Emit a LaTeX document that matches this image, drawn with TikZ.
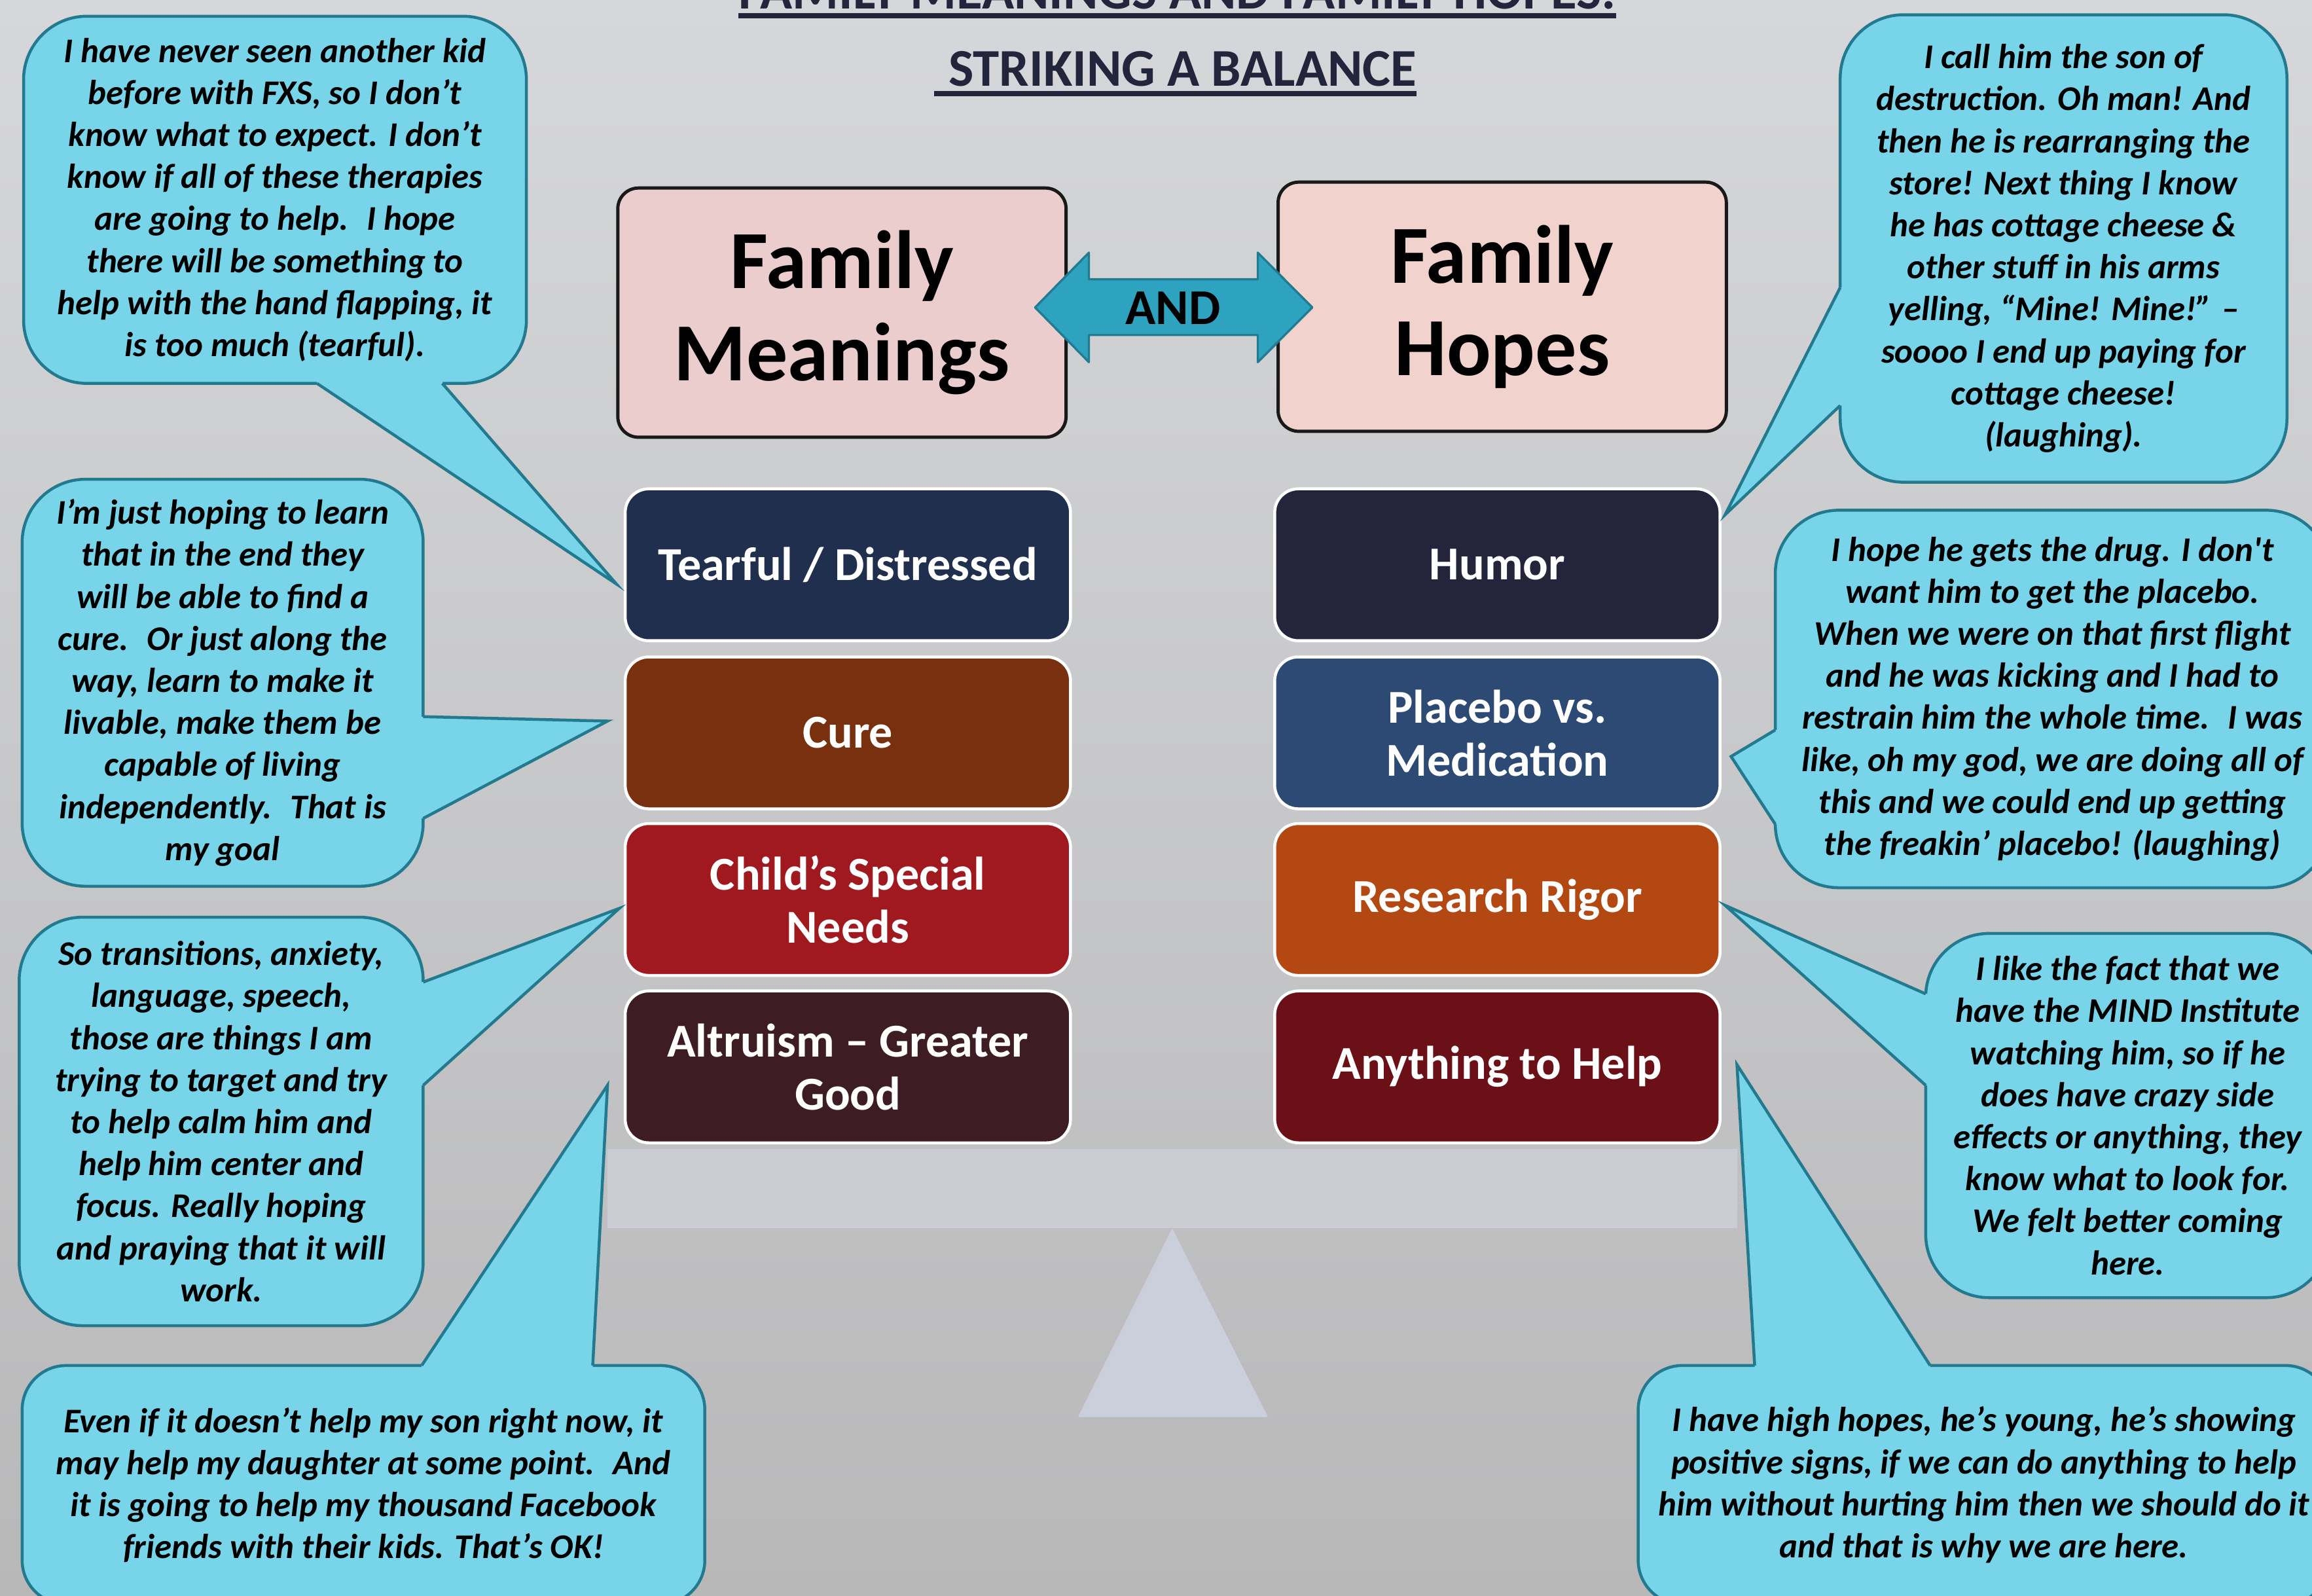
\documentclass[tikz,border=0pt]{standalone}
\usepackage{fontspec}
\setmainfont{Carlito}
\usetikzlibrary{calc}

\definecolor{bgtop}{RGB}{214,215,218}
\definecolor{bgbot}{RGB}{184,184,185}
\definecolor{titlecol}{RGB}{34,37,59}
\definecolor{meanfill}{RGB}{236,205,206}
\definecolor{hopefill}{RGB}{242,210,204}
\definecolor{andfill}{RGB}{46,163,192}
\definecolor{andline}{RGB}{33,123,145}
\definecolor{callfill}{RGB}{120,213,233}
\definecolor{callline}{RGB}{35,122,143}
\definecolor{beamcol}{RGB}{203,205,210}
\definecolor{pivotcol}{RGB}{202,207,219}
\definecolor{tearcol}{RGB}{31,47,77}
\definecolor{curecol}{RGB}{120,48,14}
\definecolor{childcol}{RGB}{160,25,31}
\definecolor{altrucol}{RGB}{62,28,36}
\definecolor{humorcol}{RGB}{36,37,59}
\definecolor{placebocol}{RGB}{44,74,116}
\definecolor{rigorcol}{RGB}{179,72,18}
\definecolor{helpcol}{RGB}{107,16,22}

\begin{document}
\begin{tikzpicture}[x=1pt,y=-1pt,
    bubble/.style={draw=callline,fill=callfill,line width=2pt,rounded corners=43pt,
      inner sep=0pt,align=center,font=\bfseries\itshape\fontsize{23.5}{28.5}\selectfont},
    pointer/.style={draw=callline,line width=2pt,line join=miter},
    catbox/.style={draw=white,line width=2pt,rounded corners=16pt,
      minimum width=302pt,minimum height=103pt,inner sep=0pt,text=white,
      align=center,font=\bfseries\fontsize{32}{36}\selectfont},
    header/.style={draw=black!90,line width=2.2pt,rounded corners=14pt,
      minimum width=304pt,minimum height=169pt,inner sep=0pt,
      align=center,font=\bfseries\fontsize{56}{62.5}\selectfont},
    heading/.style={text=titlecol,inner sep=0pt,anchor=base,
      font=\bfseries\fontsize{36}{40}\selectfont}]

    \useasboundingbox (0,0) rectangle (1568,1082);
    \shade[top color=bgtop,bottom color=bgbot] (0,0) rectangle (1568,1082);
    %
    \node[heading] (t1) at (798.5,6) {FAMILY MEANINGS AND FAMILY HOPES:};
    \node[heading] (t2) at (802,58.5) {STRIKING A BALANCE};
    \draw[titlecol,line width=3.4pt] ([yshift=-4.6pt]t1.base west) -- ([yshift=-4.6pt]t1.base east);
    \draw[titlecol,line width=3.4pt] ([xshift=-9.5pt,yshift=-4.9pt]t2.base west) -- ([yshift=-4.9pt]t2.base east);
    %
    \fill[beamcol] (412,779) rectangle (1178,833);
    \fill[pivotcol,rounded corners=1pt] (795,833) -- (860,961) -- (731,961) -- cycle;
    %
    \node[catbox,fill=tearcol] (tear) at (575,383) {Tearful / Distressed};
    \node[catbox,fill=curecol] (cure) at (575,497) {Cure};
    \node[catbox,fill=childcol] (child) at (575,610) {Child’s Special\\Needs};
    \node[catbox,fill=altrucol] (altru) at (575,723.5) {Altruism – Greater\\Good};
    \node[catbox,fill=humorcol] (humor) at (1015.5,383) {Humor};
    \node[catbox,fill=placebocol] (placebo) at (1015.5,497) {Placebo vs.\\Medication};
    \node[catbox,fill=rigorcol] (rigor) at (1015.5,610) {Research Rigor};
    \node[catbox,fill=helpcol] (anyhelp) at (1015.5,723.5) {Anything to Help};
    %
    \node[header,fill=meanfill] (mean) at (571,212) {Family\\Meanings};
    \node[header,fill=hopefill] (hope) at (1018.8,208) {Family\\Hopes};
    \filldraw[fill=andfill,draw=andline,line width=1.5pt,line join=round]
      (702,208.5) -- (738.5,171.3) -- (738.5,189.4) -- (853,189.4) -- (853,171.3)
      -- (890,208.5) -- (853,245.6) -- (853,227.2) -- (738.5,227.2) -- (738.5,245.6) -- cycle;
    \node[font=\bfseries\fontsize{34}{40}\selectfont,inner sep=0pt] (and) at (795.5,209) {AND};
    %
    \node[bubble,minimum width=341pt,minimum height=249pt] (q1) at (186.5,135.5)
      {I have never seen another kid\\before with FXS, so I don’t\\know what to expect. I don’t\\know if all of these therapies\\are going to help.~ I hope\\there will be something to\\help with the hand flapping, it\\is too much (tearful).};
    \node[bubble,minimum width=272pt,minimum height=276pt] (q2) at (151,463)
      {I’m just hoping to learn\\that in the end they\\will be able to find a\\cure.~ Or just along the\\way, learn to make it\\livable, make them be\\capable of living\\independently.~ That is\\my goal};
    \node[bubble,minimum width=274pt,minimum height=277pt] (q3) at (150,760.5)
      {So transitions, anxiety,\\language, speech,\\those are things I am\\trying to target and try\\to help calm him and\\help him center and\\focus. Really hoping\\and praying that it will\\work.};
    \node[bubble,rounded corners=30pt,minimum width=463pt,minimum height=162pt] (q4) at (246.5,1007)
      {Even if it doesn’t help my son right now, it\\may help my daughter at some point.~ And\\it is going to help my thousand Facebook\\friends with their kids. That’s OK!};
    \node[bubble,minimum width=303pt,minimum height=317pt] (q5) at (1399.5,168.5)
      {I call him the son of\\destruction. Oh man! And\\then he is rearranging the\\store! Next thing I know\\he has cottage cheese \&\\other stuff in his arms\\yelling, “Mine! Mine!” –\\soooo I end up paying for\\cottage cheese!\\(laughing).};
    \node[bubble,minimum width=376pt,minimum height=256pt] (q6) at (1392,474)
      {I hope he gets the drug. I don\textquotesingle t\\want him to get the placebo.\\When we were on that first flight\\and he was kicking and I had to\\restrain him the whole time.~ I was\\like, oh my god, we are doing all of\\this and we could end up getting\\the freakin’ placebo! (laughing)};
    \node[bubble,minimum width=274pt,minimum height=247pt] (q7) at (1443,756.5)
      {I like the fact that we\\have the MIND Institute\\watching him, so if he\\does have crazy side\\effects or anything, they\\know what to look for.\\We felt better coming\\here.};
    \node[bubble,rounded corners=30pt,minimum width=469pt,minimum height=162pt] (q8) at (1345.5,1007)
      {I have high hopes, he’s young, he’s showing\\positive signs, if we can do anything to help\\him without hurting him then we should do it\\and that is why we are here.};
    %
    \coordinate (tip1) at (418,396);
    \coordinate (tip2) at (412,489);
    \coordinate (tip3) at (420,616);
    \coordinate (tip4) at (412,736);
    \coordinate (tip5) at (1170,349);
    \coordinate (tip6) at (1174,513);
    \coordinate (tip7) at (1170,614);
    \coordinate (tip8) at (1178,722);
    %
    \fill[callfill] (215,256) -- (215,260) -- (tip1) -- (300,260) -- (300,256) -- cycle;
    \draw[pointer] (215,260) -- (tip1) -- (300,260);
    \fill[callfill] (283,486) -- (287,486) -- (tip2) -- (287,555) -- (283,555) -- cycle;
    \draw[pointer] (287,486) -- (tip2) -- (287,555);
    \fill[callfill] (283,666) -- (287,666) -- (tip3) -- (287,736) -- (283,736) -- cycle;
    \draw[pointer] (287,666) -- (tip3) -- (287,736);
    \fill[callfill] (286,930) -- (286,926) -- (tip4) -- (402,926) -- (402,930) -- cycle;
    \draw[pointer] (286,926) -- (tip4) -- (402,926);
    \fill[callfill] (1252,195) -- (1248,195) -- (tip5) -- (1248,275) -- (1252,275) -- cycle;
    \draw[pointer] (1248,195) -- (tip5) -- (1248,275);
    \fill[callfill] (1208,495) -- (1204,495) -- (tip6) -- (1204,559) -- (1208,559) -- cycle;
    \draw[pointer] (1204,495) -- (tip6) -- (1204,559);
    \fill[callfill] (1310,674) -- (1306,674) -- (tip7) -- (1306,736) -- (1310,736) -- cycle;
    \draw[pointer] (1306,674) -- (tip7) -- (1306,736);
    \fill[callfill] (1190,930) -- (1190,926) -- (tip8) -- (1309,926) -- (1309,930) -- cycle;
    \draw[pointer] (1190,926) -- (tip8) -- (1309,926);
\end{tikzpicture}
\end{document}
